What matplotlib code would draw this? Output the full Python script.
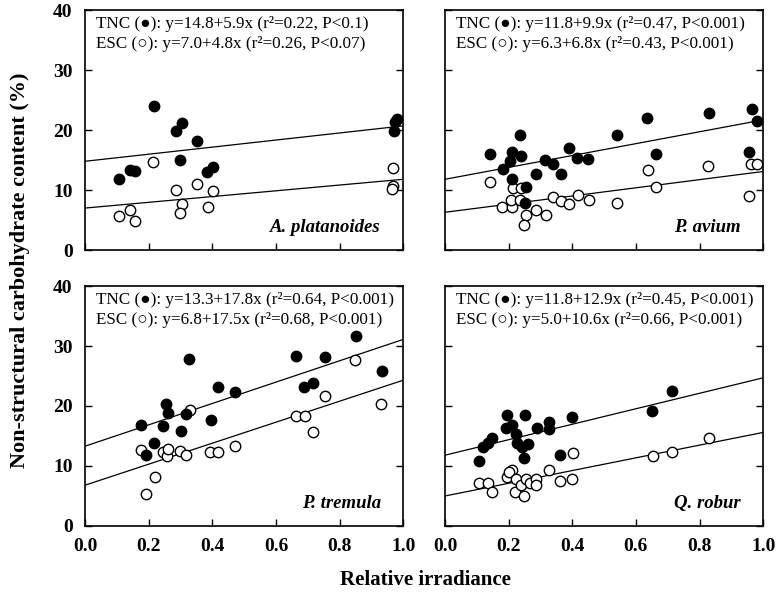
import numpy as np
import matplotlib.pyplot as plt

# ---------------------------------------------------------------
# Data: relative irradiance vs. TNC / ESC content (%)
# ---------------------------------------------------------------

species = ["A. platanoides", "P. avium", "P. tremula", "Q. robur"]

# A. platanoides
ap_tnc_x = [0.108, 0.142, 0.157, 0.217, 0.287, 0.306, 0.299, 0.351, 0.383, 0.402, 0.970, 0.975, 0.980]
ap_tnc_y = [11.9, 13.4, 13.1, 24.0, 19.9, 21.1, 15.0, 18.1, 13.0, 13.9, 19.9, 21.3, 21.8]
ap_esc_x = [0.108, 0.142, 0.156, 0.215, 0.287, 0.306, 0.297, 0.352, 0.385, 0.401, 0.969, 0.967, 0.966]
ap_esc_y = [5.7, 6.7, 4.8, 14.6, 10.0, 7.6, 6.1, 11.0, 7.2, 9.8, 13.6, 10.6, 10.1]

# P. avium
pa_tnc_x = [0.143, 0.181, 0.204, 0.212, 0.236, 0.238, 0.212, 0.256, 0.251, 0.287, 0.314, 0.340,
            0.364, 0.389, 0.416, 0.450, 0.539, 0.635, 0.663, 0.829, 0.964, 0.979, 0.956]
pa_tnc_y = [16.0, 13.5, 14.8, 16.3, 19.1, 15.7, 11.8, 10.5, 7.9, 12.7, 15.0, 14.4,
            12.7, 17.0, 15.4, 15.1, 19.1, 22.0, 16.0, 22.9, 23.5, 21.5, 16.3]
pa_esc_x = [0.143, 0.179, 0.210, 0.207, 0.215, 0.238, 0.235, 0.256, 0.249, 0.287, 0.316, 0.339,
            0.364, 0.391, 0.417, 0.451, 0.539, 0.637, 0.663, 0.827, 0.962, 0.981, 0.956]
pa_esc_y = [11.4, 7.2, 7.2, 8.4, 10.3, 10.3, 8.3, 5.9, 4.1, 6.6, 5.9, 8.9,
            8.2, 7.6, 9.1, 8.4, 7.8, 13.3, 10.5, 14.0, 14.4, 14.3, 9.0]

# P. tremula
pt_tnc_x = [0.177, 0.193, 0.218, 0.246, 0.256, 0.262, 0.301, 0.316, 0.328, 0.395, 0.417, 0.472,
            0.662, 0.688, 0.716, 0.755, 0.851, 0.933]
pt_tnc_y = [16.9, 11.8, 13.8, 16.7, 20.4, 18.9, 15.8, 18.7, 27.9, 17.7, 23.1, 22.3,
            28.3, 23.1, 23.9, 28.1, 31.7, 25.9]
pt_esc_x = [0.177, 0.193, 0.221, 0.246, 0.258, 0.262, 0.297, 0.318, 0.330, 0.394, 0.418, 0.472,
            0.662, 0.690, 0.715, 0.755, 0.849, 0.931]
pt_esc_y = [12.7, 5.4, 8.2, 12.4, 11.7, 12.8, 12.5, 11.9, 19.3, 12.4, 12.3, 13.3,
            18.4, 18.4, 15.6, 21.6, 27.7, 20.3]

# Q. robur
qr_tnc_x = [0.107, 0.119, 0.135, 0.148, 0.195, 0.192, 0.212, 0.223, 0.225, 0.241, 0.249, 0.252,
            0.262, 0.288, 0.326, 0.328, 0.361, 0.399, 0.651, 0.713]
qr_tnc_y = [10.9, 13.1, 13.9, 14.6, 18.5, 16.4, 16.9, 15.4, 13.9, 13.1, 11.4, 18.5,
            13.7, 16.3, 17.4, 16.1, 11.9, 18.2, 19.2, 22.5]
qr_esc_x = [0.107, 0.135, 0.148, 0.194, 0.210, 0.200, 0.223, 0.221, 0.238, 0.247, 0.256, 0.266,
            0.287, 0.287, 0.326, 0.361, 0.399, 0.401, 0.653, 0.713, 0.831]
qr_esc_y = [7.2, 7.1, 5.7, 8.2, 9.4, 9.0, 7.8, 5.7, 6.8, 5.0, 7.9, 7.2,
            7.9, 6.8, 9.3, 7.5, 7.9, 12.1, 11.7, 12.3, 14.6]

# regression coefficients (intercept, slope) and stats
tnc_fit = [(14.8, 5.9), (11.8, 9.9), (13.3, 17.8), (11.8, 12.9)]
esc_fit = [(7.0, 4.8), (6.3, 6.8), (6.8, 17.5), (5.0, 10.6)]
tnc_stats = ["r\u00b2=0.22, P<0.1", "r\u00b2=0.47, P<0.001", "r\u00b2=0.64, P<0.001", "r\u00b2=0.45, P<0.001"]
esc_stats = ["r\u00b2=0.26, P<0.07", "r\u00b2=0.43, P<0.001", "r\u00b2=0.68, P<0.001", "r\u00b2=0.66, P<0.001"]

tnc_x = [ap_tnc_x, pa_tnc_x, pt_tnc_x, qr_tnc_x]
tnc_y = [ap_tnc_y, pa_tnc_y, pt_tnc_y, qr_tnc_y]
esc_x = [ap_esc_x, pa_esc_x, pt_esc_x, qr_esc_x]
esc_y = [ap_esc_y, pa_esc_y, pt_esc_y, qr_esc_y]

xticks = [0.0, 0.2, 0.4, 0.6, 0.8, 1.0]
yticks = [0, 10, 20, 30, 40]

# ---------------------------------------------------------------
# Figure
# ---------------------------------------------------------------
serif = ["Liberation Serif", "DejaVu Serif"]
sym = ["Liberation Serif", "DejaVu Sans"]
plt.rcParams["font.family"] = serif

fig = plt.figure(figsize=(7.8, 5.94), dpi=100)

w, h = 0.408, 0.404
boxes = [(0.109, 0.579), (0.5705, 0.579), (0.109, 0.1145), (0.5705, 0.1145)]

xx = np.array([0.0, 1.0])
for i, (l, b) in enumerate(boxes):
    ax = fig.add_axes([l, b, w, h])
    a, s = tnc_fit[i]
    ax.plot(xx, a + s * xx, color="black", lw=0.9, zorder=1)
    a, s = esc_fit[i]
    ax.plot(xx, a + s * xx, color="black", lw=0.9, zorder=1)

    ax.plot(esc_x[i], esc_y[i], "o", ms=7.5, mfc="white", mec="black", mew=1.0,
            zorder=2, clip_on=False)
    ax.plot(tnc_x[i], tnc_y[i], "o", ms=7.5, mfc="black", mec="black",
            zorder=3, clip_on=False)

    ax.set_xlim(0, 1)
    ax.set_ylim(0, 40)
    ax.set_xticks(xticks)
    ax.set_yticks(yticks)
    ax.tick_params(direction="in", length=5, width=1, right=True, top=False,
                   labelsize=14)
    ax.tick_params(axis="x", pad=9)
    ax.tick_params(axis="y", pad=9)
    for lab in ax.get_xticklabels() + ax.get_yticklabels():
        lab.set_fontweight("bold")
    if i % 2 == 1:
        ax.tick_params(labelleft=False)
    if i < 2:
        ax.tick_params(labelbottom=False)
    for sp in ax.spines.values():
        sp.set_linewidth(1.2)

    a, s = tnc_fit[i]
    ax.text(0.035, 0.975, f"TNC (\u25cf): y={a:.1f}+{s:.1f}x ({tnc_stats[i]})",
            transform=ax.transAxes, ha="left", va="top", fontsize=12.3, family=sym)
    a, s = esc_fit[i]
    ax.text(0.035, 0.89, f"ESC (\u25cb): y={a:.1f}+{s:.1f}x ({esc_stats[i]})",
            transform=ax.transAxes, ha="left", va="top", fontsize=12.3, family=sym)

    ax.text(0.93, 0.06, species[i], transform=ax.transAxes, ha="right", va="bottom",
            fontsize=13.5, style="italic", fontweight="bold")

fig.text(0.026, 0.545, "Non-structural carbohydrate content (%)", rotation=90,
         ha="center", va="center", fontsize=16, fontweight="bold")
fig.text(0.545, 0.024, "Relative irradiance", ha="center", va="center",
         fontsize=15, fontweight="bold")

fig.savefig("out.png", dpi=100)
